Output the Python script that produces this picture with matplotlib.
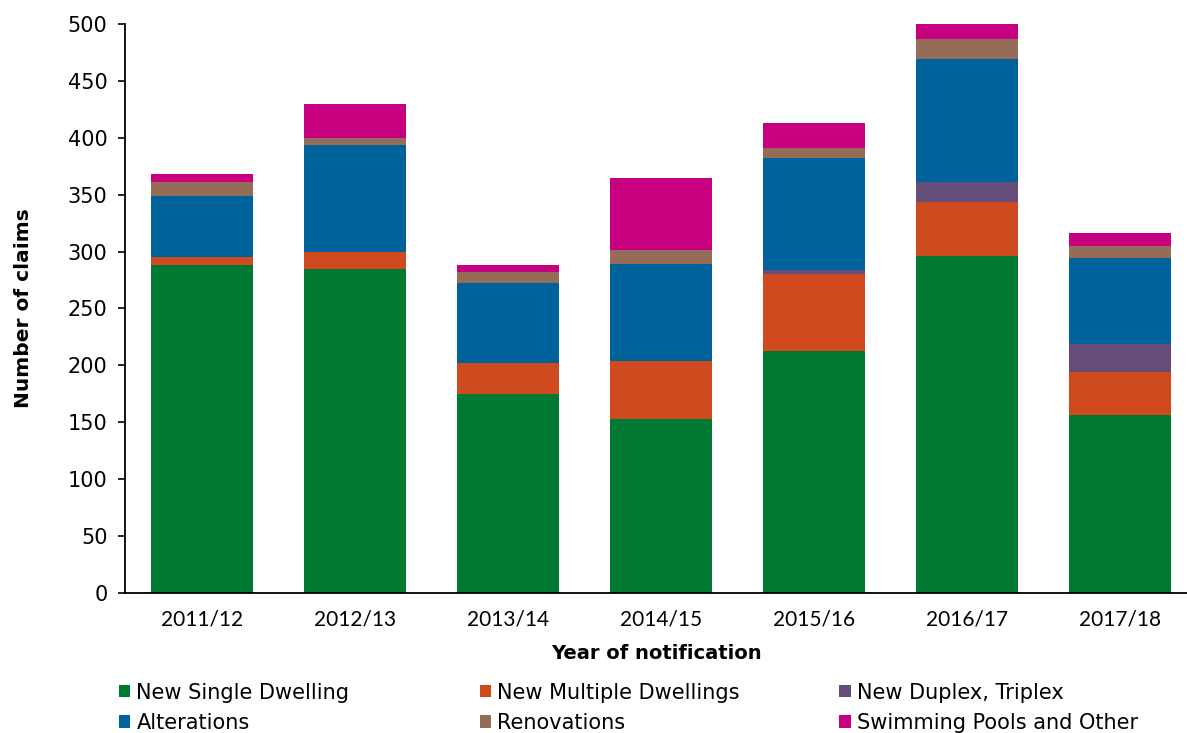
import matplotlib
matplotlib.use("Agg")
import matplotlib.pyplot as plt
import numpy as np

years = ["2011/12", "2012/13", "2013/14", "2014/15", "2015/16", "2016/17", "2017/18"]
new_single = [288, 285, 175, 153, 213, 296, 156]
new_multiple = [7, 15, 27, 51, 67, 48, 38]
new_duplex = [0, 0, 0, 0, 4, 17, 25]
alterations = [54, 94, 70, 85, 98, 108, 75]
renovations = [12, 6, 10, 12, 9, 18, 11]
pools_other = [7, 30, 6, 64, 22, 13, 11]

series = [
    ("New Single Dwelling", new_single, "#007a33"),
    ("New Multiple Dwellings", new_multiple, "#d04a20"),
    ("New Duplex, Triplex", new_duplex, "#654d7a"),
    ("Alterations", alterations, "#00629b"),
    ("Renovations", renovations, "#956c58"),
    ("Swimming Pools and Other", pools_other, "#c6007e"),
]

plt.rcParams["font.family"] = ["DejaVu Sans"]

fig = plt.figure(figsize=(11.87, 7.33), dpi=100)
ax = fig.add_axes([0.1057, 0.191, 0.8943, 0.7763])

x = np.arange(len(years))
bottom = np.zeros(len(years))
handles = {}
for name, vals, color in series:
    vals = np.array(vals, dtype=float)
    h = ax.bar(x, vals, 0.667, bottom=bottom, color=color, label=name)
    handles[name] = h
    bottom += vals

ax.set_xlim(-0.5, 6.44)
ax.set_ylim(0, 500)
ax.set_yticks(range(0, 501, 50))
ax.set_xticks(x)
ax.set_xticklabels(years, fontsize=15, family=["Lato", "DejaVu Sans"])
ax.tick_params(axis="y", labelsize=15, length=5, width=1.2, direction="out", pad=8)
ax.tick_params(axis="x", length=0, pad=12)
for s in ("top", "right"):
    ax.spines[s].set_visible(False)
for s in ("left", "bottom"):
    ax.spines[s].set_linewidth(1.3)

ax.set_ylabel("Number of claims", fontsize=14.5, fontweight="bold", labelpad=25)
ax.set_xlabel("Year of notification", fontsize=14, fontweight="bold", labelpad=10)

# Excel-style legend: three equal-width columns, two rows
cols = [("New Single Dwelling", "Alterations"),
        ("New Multiple Dwellings", "Renovations"),
        ("New Duplex, Triplex", "Swimming Pools and Other")]
col_x = [0.100, 0.404, 0.707]
for cx, names in zip(col_x, cols):
    fig.legend([handles[n] for n in names], names, loc="lower left",
               bbox_to_anchor=(cx, 0.0), ncol=1, frameon=False, fontsize=15,
               handlelength=0.55, handleheight=0.55, handletextpad=0.3,
               labelspacing=0.5, borderpad=0, borderaxespad=0)

fig.savefig("out.png", dpi=100)
